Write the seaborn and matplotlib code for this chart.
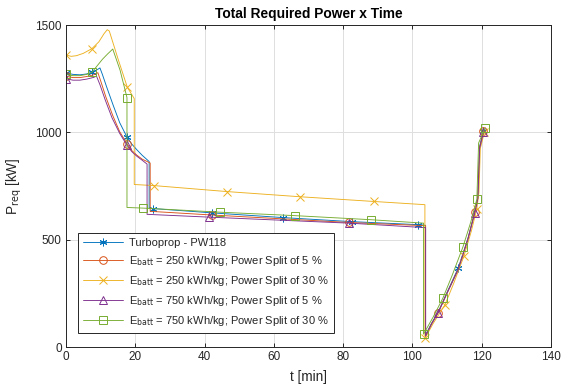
import numpy as np
import pandas as pd
import matplotlib
matplotlib.use("Agg")
import matplotlib.pyplot as plt
import seaborn as sns

# ---------------- data ----------------
t_tp = [0, 2, 4, 6, 7.5, 9, 9.8, 10.5, 11.7, 13.6, 15.5, 17.6, 19, 20.5, 22, 24.0, 24.0, 25, 42, 62.5,
        82.5, 101.5, 103.8, 103.8, 105.5, 107.4, 110, 113.2, 116, 118, 118.9, 119.4, 120.5]
p_tp = [1277, 1270, 1268, 1272, 1280, 1292, 1300, 1270, 1213, 1127, 1045, 978, 945, 918, 893, 864, 648, 645, 625, 603,
        584, 570, 567, 57, 110, 162, 255, 367, 505, 628, 700, 935, 1008]

t_o = [0, 2, 4, 6, 8, 9.2, 10, 11.5, 13.5, 15.5, 17.6, 19, 20.5, 22, 24.3, 24.3, 42, 81.7, 103.8, 103.8,
       105.5, 107.4, 110, 113.2, 116, 118, 118.9, 119.4, 120.5]
p_o = [1262, 1255, 1255, 1260, 1268, 1278, 1240, 1165, 1078, 1003, 947, 915, 893, 875, 857, 632, 615, 580, 565, 52,
       108, 160, 252, 362, 503, 628, 695, 930, 1005]

t_y = [0, 1.5, 3, 5, 7.5, 9.5, 11, 11.9, 12.5, 15, 17.7, 19.7, 19.7, 25.3, 46.5, 67.5, 88.8, 103.6, 103.6,
       106, 109.4, 112, 114.9, 117, 118.6, 119.2, 119.6, 120.8]
p_y = [1360, 1354, 1357, 1368, 1390, 1422, 1460, 1478, 1472, 1343, 1210, 1157, 757, 752, 724, 700, 678, 663, 40,
       110, 197, 300, 425, 540, 645, 720, 925, 1003]

t_p = [0, 2, 4, 6, 8, 8.8, 9.8, 11.3, 13.3, 15.5, 17.6, 19, 20.5, 22, 23.4, 23.4, 41.3, 81.7, 103.8, 103.8,
       105.5, 107.4, 110, 113.2, 116, 118, 118.9, 119.4, 120.5]
p_p = [1250, 1243, 1243, 1248, 1256, 1262, 1222, 1152, 1067, 995, 940, 910, 888, 870, 852, 618, 605, 577, 556, 50,
       106, 158, 250, 360, 500, 625, 692, 925, 1000]

t_g = [0, 2, 4, 6, 7.5, 9, 10.5, 12, 13.5, 15.6, 17.6, 17.6, 22.3, 44.5, 66, 88, 103.2, 103.2,
       106, 108.8, 111.5, 114.6, 116.8, 118.6, 119.1, 121]
p_g = [1270, 1264, 1264, 1270, 1280, 1310, 1340, 1365, 1388, 1290, 1162, 650, 647, 628, 612, 593, 577, 60,
       140, 228, 335, 467, 580, 689, 950, 1022]

labels = [
    "Turboprop - PW118",
    r"E$_{\mathrm{batt}}$ = 250 kWh/kg; Power Split of 5 %",
    r"E$_{\mathrm{batt}}$ = 250 kWh/kg; Power Split of 30 %",
    r"E$_{\mathrm{batt}}$ = 750 kWh/kg; Power Split of 5 %",
    r"E$_{\mathrm{batt}}$ = 750 kWh/kg; Power Split of 30 %",
]
x_ticks = [0, 20, 40, 60, 80, 100, 120, 140]
y_ticks = [0, 500, 1000, 1500]

# ---------------- style ----------------
sns.set_theme(style="ticks")
plt.rcParams["font.family"] = ["Liberation Sans", "DejaVu Sans"]
plt.rcParams["mathtext.default"] = "regular"

fig = plt.figure(figsize=(5.64, 3.89), dpi=100)
ax = fig.add_axes([66 / 564, 1 - 347 / 389, 485 / 564, 322 / 389])

colors = ["#0072BD", "#D95319", "#EDB120", "#7E2F8E", "#77AC30"]
markers = [(6, 2, 0), "o", "x", "^", "s"]
series = [(t_tp, p_tp), (t_o, p_o), (t_y, p_y), (t_p, p_p), (t_g, p_g)]
mark_idx = [
    [0, 4, 11, 17, 18, 19, 20, 21, 27, 32],
    [0, 10, 16, 17, 21, 25, 28],
    [0, 4, 10, 13, 14, 15, 16, 18, 20, 22, 24, 27],
    [0, 10, 16, 17, 21, 25, 28],
    [0, 4, 10, 12, 13, 14, 15, 17, 19, 21, 23, 25],
]

for (t, p), c, m, mi, lab in zip(series, colors, markers, mark_idx, labels):
    df = pd.DataFrame({"t": t, "P": p})
    sns.lineplot(data=df, x="t", y="P", ax=ax, estimator=None, sort=False,
                 color=c, linewidth=0.65, marker=m, markevery=mi, markersize=5.5,
                 markerfacecolor="none", markeredgecolor=c, markeredgewidth=0.7,
                 label=lab, legend=False)

ax.set_xlim(0, 140)
ax.set_ylim(0, 1500)
ax.set_xticks(x_ticks)
ax.set_yticks(y_ticks)
ax.grid(True, color="#dedede", linewidth=0.7)
ax.set_axisbelow(True)
for s in ax.spines.values():
    s.set_visible(True)
    s.set_color("#262626")
    s.set_linewidth(0.7)
ax.tick_params(direction="in", length=3, width=0.7, colors="#262626", labelsize=8.5,
               top=True, right=True, pad=3)
ax.set_xlabel("t [min]", fontsize=9.8, color="#262626", labelpad=5)
ax.set_ylabel(r"P$_{\mathrm{req}}$ [kW]", fontsize=9.8, color="#262626", labelpad=8)
ax.set_title("Total Required Power x Time", fontsize=9.9, fontweight="bold", color="black", pad=5)

leg = ax.legend(loc="lower left", bbox_to_anchor=(0.025, 0.045), fontsize=8,
                frameon=True, fancybox=False, edgecolor="#262626", framealpha=1,
                handlelength=3.6, borderpad=0.4, labelspacing=0.55, handletextpad=0.6,
                borderaxespad=0)
leg.get_frame().set_linewidth(0.7)

fig.savefig("out.png", dpi=100)
